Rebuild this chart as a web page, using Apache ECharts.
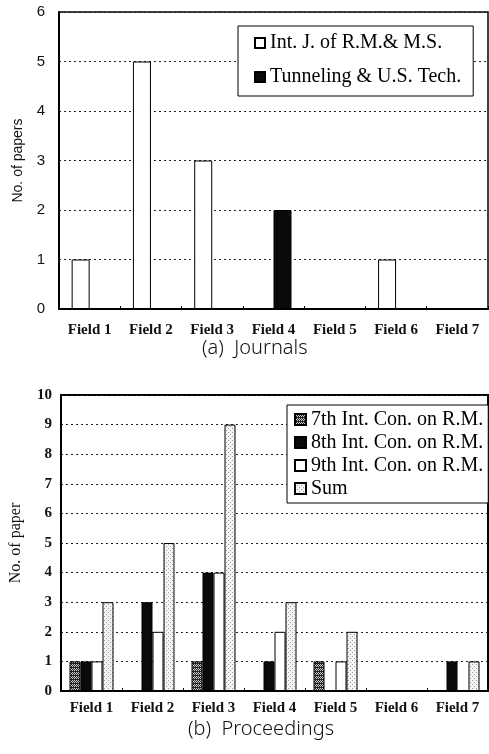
<!DOCTYPE html>
<html><head><meta charset="utf-8">
<script src="https://cdn.jsdelivr.net/npm/echarts@6/dist/echarts.min.js"></script>
<style>html,body{margin:0;padding:0;background:#fff}#c{width:489px;height:754px}</style>
</head><body><div id="c"></div>
<script>
// ---- data ----
const categories = ['Field 1','Field 2','Field 3','Field 4','Field 5','Field 6','Field 7'];
const journalNames = ['Int. J. of R.M.& M.S.', 'Tunneling & U.S. Tech.'];
const journalIntJ = [1, 5, 3, 0, 0, 1, 0];
const journalTunnel = [0, 0, 0, 2, 0, 0, 0];
const procNames = ['7th Int. Con. on R.M.', '8th Int. Con. on R.M.', '9th Int. Con. on R.M.', 'Sum'];
const proc7th = [1, 0, 1, 0, 1, 0, 0];
const proc8th = [1, 3, 4, 1, 0, 0, 1];
const proc9th = [1, 2, 4, 2, 1, 0, 0];
const procSum = [3, 5, 9, 3, 2, 0, 1];
const yTicksTop = [0, 1, 2, 3, 4, 5, 6];
const yTicksBottom = [0, 1, 2, 3, 4, 5, 6, 7, 8, 9, 10];

// ---- patterns ----
function makePattern(size, bg, fg, cells) {
  const cv = document.createElement('canvas');
  cv.width = size; cv.height = size;
  const ctx = cv.getContext('2d');
  ctx.fillStyle = bg; ctx.fillRect(0, 0, size, size);
  ctx.fillStyle = fg;
  cells.forEach(([x, y]) => ctx.fillRect(x, y, 1, 1));
  return { image: cv, repeat: 'repeat' };
}
const hatch = makePattern(4, '#222', '#cfcfcf', [[0,0],[2,0],[1,1],[3,1],[0,2],[2,2]]);
const stipple = makePattern(4, '#f4f4f4', '#9a9a9a', [[0,0],[2,2]]);

const serif = 'Liberation Serif';
const sans = 'Liberation Sans';
const gridLine = { show: true, lineStyle: { color: '#222', type: [2, 3], width: 1 } };
const barBase = { borderColor: '#000', borderWidth: 1 };

const chart = echarts.init(document.getElementById('c'), null, { renderer: 'canvas' });
chart.setOption({
  animation: false,
  backgroundColor: '#fff',
  grid: [
    { left: 59, top: 12, width: 429, height: 297, show: true, borderColor: '#000', borderWidth: 1.5, backgroundColor: 'transparent' },
    { left: 59, top: 395, width: 429, height: 296, show: true, borderColor: '#000', borderWidth: 2, backgroundColor: 'transparent' }
  ],
  xAxis: [
    { type: 'category', gridIndex: 0, data: categories,
      axisLine: { lineStyle: { color: '#000', width: 2 } },
      axisTick: { show: true, inside: true, length: 3, lineStyle: { color: '#000' } },
      axisLabel: { fontFamily: serif, fontWeight: 'bold', fontSize: 15, color: '#111', margin: 14 } },
    { type: 'category', gridIndex: 1, data: categories,
      axisLine: { lineStyle: { color: '#000', width: 2 } },
      axisTick: { show: true, inside: true, length: 3, lineStyle: { color: '#000' } },
      axisLabel: { fontFamily: serif, fontWeight: 'bold', fontSize: 15, color: '#111', margin: 10 } }
  ],
  yAxis: [
    { type: 'value', gridIndex: 0, min: yTicksTop[0], max: yTicksTop[yTicksTop.length - 1], interval: 1,
      name: 'No. of papers', nameLocation: 'middle', nameGap: 34, nameRotate: 90,
      nameTextStyle: { fontFamily: sans, fontSize: 14, color: '#111' },
      axisLine: { show: true, lineStyle: { color: '#000', width: 2 } },
      axisTick: { show: false },
      axisLabel: { fontFamily: sans, fontSize: 15, color: '#111', margin: 14 },
      splitLine: gridLine },
    { type: 'value', gridIndex: 1, min: yTicksBottom[0], max: yTicksBottom[yTicksBottom.length - 1], interval: 1,
      name: 'No. of paper', nameLocation: 'middle', nameGap: 37, nameRotate: 90,
      nameTextStyle: { fontFamily: serif, fontSize: 16, color: '#111' },
      axisLine: { show: true, lineStyle: { color: '#000', width: 2 } },
      axisTick: { show: false },
      axisLabel: { fontFamily: serif, fontWeight: 'bold', fontSize: 15, color: '#111', margin: 9 },
      splitLine: gridLine }
  ],
  legend: [
    { data: journalNames, left: 238, top: 26, orient: 'vertical',
      backgroundColor: '#fff', borderColor: '#000', borderWidth: 1,
      padding: [6, 12, 8, 16], itemGap: 12, itemWidth: 10, itemHeight: 10, icon: 'rect',
      textStyle: { fontFamily: serif, fontSize: 20, lineHeight: 22, color: '#000' } },
    { data: procNames, left: 287, top: 405, orient: 'vertical',
      backgroundColor: '#fff', borderColor: '#000', borderWidth: 1,
      padding: [4, 5, 4, 7], itemGap: 2, itemWidth: 11, itemHeight: 11, icon: 'rect',
      textStyle: { fontFamily: serif, fontSize: 20, lineHeight: 21, color: '#000' } }
  ],
  graphic: [
    { type: 'text', left: 266 - 64, top: 338, style: { text: '(a)  Journals', fontFamily: 'Noto Sans', fontWeight: 300, fontSize: 20, fill: '#111' } },
    { type: 'text', left: 279 - 91, top: 719, style: { text: '(b)  Proceedings', fontFamily: 'Noto Sans', fontWeight: 300, fontSize: 20, fill: '#111' } }
  ],
  series: [
    { name: journalNames[0], type: 'bar', xAxisIndex: 0, yAxisIndex: 0, data: journalIntJ,
      barWidth: 18, barGap: '0%', itemStyle: Object.assign({ color: '#fff' }, barBase) },
    { name: journalNames[1], type: 'bar', xAxisIndex: 0, yAxisIndex: 0, data: journalTunnel,
      barWidth: 18, barGap: '0%', itemStyle: Object.assign({ color: '#0a0a0a' }, barBase) },
    { name: procNames[0], type: 'bar', xAxisIndex: 1, yAxisIndex: 1, data: proc7th,
      barWidth: 11, barGap: '0%', itemStyle: Object.assign({ color: hatch }, barBase) },
    { name: procNames[1], type: 'bar', xAxisIndex: 1, yAxisIndex: 1, data: proc8th,
      barWidth: 11, barGap: '0%', itemStyle: Object.assign({ color: '#0a0a0a' }, barBase) },
    { name: procNames[2], type: 'bar', xAxisIndex: 1, yAxisIndex: 1, data: proc9th,
      barWidth: 11, barGap: '0%', itemStyle: Object.assign({ color: '#fff' }, barBase) },
    { name: procNames[3], type: 'bar', xAxisIndex: 1, yAxisIndex: 1, data: procSum,
      barWidth: 11, barGap: '0%', itemStyle: Object.assign({ color: stipple }, barBase) }
  ]
});
</script>
</body></html>
